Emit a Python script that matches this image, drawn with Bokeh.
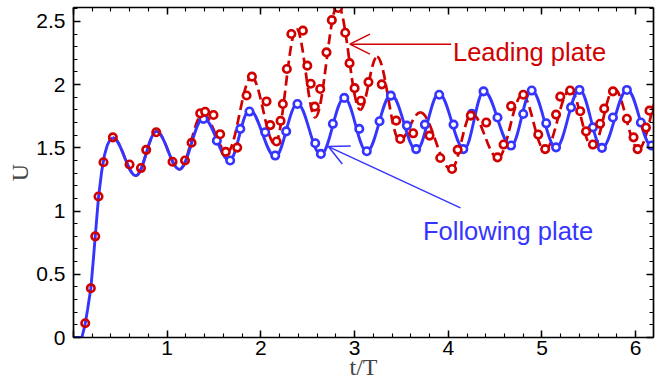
import numpy as np
from bokeh.plotting import figure
from bokeh.models import (Range1d, LinearAxis, SingleIntervalTicker, NumeralTickFormatter,
                          BasicTickFormatter, Label, Arrow, OpenHead)
from bokeh.embed import file_html
from bokeh.resources import INLINE

# ---------------- data ----------------
# shared initial rise of U(t/T)
rise_t = [0.0, 0.09, 0.125, 0.15, 0.185, 0.21, 0.232, 0.267, 0.30, 0.33, 0.36, 0.39, 0.42]
rise_u = [0.0, 0.0, 0.11, 0.22, 0.39, 0.60, 0.80, 1.11, 1.31, 1.44, 1.52, 1.565, 1.58]

# following plate (solid blue): successive peaks / troughs
follow_t = [0.42, 0.666, 0.885, 1.13, 1.387, 1.665, 1.878, 2.153, 2.39, 2.64, 2.89, 3.13, 3.39,
            3.66, 3.90, 4.17, 4.38, 4.67, 4.89, 5.15, 5.40, 5.64, 5.91, 6.17, 6.42]
follow_u = [1.58, 1.28, 1.63, 1.33, 1.735, 1.40, 1.80, 1.43, 1.85, 1.445, 1.895, 1.47, 1.92,
            1.48, 1.93, 1.49, 1.95, 1.515, 1.955, 1.50, 1.96, 1.50, 1.96, 1.515, 1.96]

# leading plate (dashed red): successive peaks / troughs
lead_t = [0.42, 0.666, 0.885, 1.13, 1.38, 1.64, 1.90, 2.15, 2.38, 2.58, 2.82, 3.06, 3.24, 3.48,
          3.70, 4.03, 4.25, 4.53, 4.79, 5.03, 5.30, 5.54, 5.77, 6.03, 6.28]
lead_u = [1.58, 1.28, 1.63, 1.33, 1.77, 1.465, 2.06, 1.53, 2.44, 1.74, 2.63, 1.80, 2.22, 1.56,
          1.78, 1.33, 1.77, 1.42, 1.92, 1.48, 1.96, 1.50, 1.97, 1.49, 1.97]

# leading plate, circle symbols
lead_pts_t = [0.125, 0.185, 0.232, 0.267, 0.32, 0.42, 0.598, 0.72, 0.776, 0.883, 1.057, 1.19,
              1.26, 1.352, 1.405, 1.494, 1.565, 1.625, 1.747, 1.847, 1.904, 2.06, 2.10, 2.167,
              2.21, 2.234, 2.277, 2.325, 2.448, 2.495, 2.532, 2.575, 2.633, 2.70, 2.757, 2.823,
              2.90, 2.946, 3.0, 3.067, 3.148, 3.29, 3.444, 3.487, 3.625, 3.80, 3.914, 4.04, 4.10,
              4.24, 4.405, 4.525, 4.59, 4.67, 4.80, 4.96, 5.034, 5.15, 5.195, 5.30, 5.408, 5.47,
              5.543, 5.62, 5.664, 5.757, 5.906, 5.977, 6.02, 6.11, 6.147]
lead_pts_u = [0.113, 0.39, 0.80, 1.115, 1.386, 1.583, 1.368, 1.34, 1.484, 1.623, 1.39, 1.40,
              1.54, 1.773, 1.785, 1.76, 1.608, 1.468, 1.502, 1.914, 2.063, 1.867, 1.68, 1.55,
              1.713, 1.847, 2.124, 2.40, 2.427, 2.15, 2.007, 1.826, 1.966, 2.255, 2.51, 2.606,
              2.41, 2.17, 1.972, 1.872, 2.02, 2.002, 1.715, 1.57, 1.615, 1.597, 1.42, 1.333,
              1.484, 1.755, 1.70, 1.425, 1.526, 1.83, 1.92, 1.605, 1.49, 1.763, 1.905, 1.953,
              1.79, 1.63, 1.526, 1.69, 1.81, 1.947, 1.73, 1.583, 1.49, 1.66, 1.794]

# following plate, circle symbols
follow_pts_t = [1.387, 1.53, 1.672, 1.78, 1.878, 2.046, 2.153, 2.27, 2.39, 2.58, 2.64, 2.768,
                2.89, 3.05, 3.13, 3.266, 3.387, 3.558, 3.657, 3.75, 3.903, 4.056, 4.16, 4.25,
                4.376, 4.525, 4.67, 4.80, 4.89, 5.045, 5.15, 5.31, 5.40, 5.543, 5.64, 5.757,
                5.906, 6.055, 6.17]
follow_pts_u = [1.729, 1.557, 1.40, 1.65, 1.787, 1.623, 1.439, 1.63, 1.847, 1.536, 1.452, 1.69,
                1.895, 1.65, 1.473, 1.71, 1.913, 1.676, 1.49, 1.684, 1.92, 1.684, 1.49, 1.77,
                1.947, 1.74, 1.518, 1.768, 1.953, 1.694, 1.504, 1.82, 1.958, 1.662, 1.50, 1.74,
                1.958, 1.70, 1.518]

x_label = "t/T"
y_label = "U"
lead_name = "Leading plate"
follow_name = "Following plate"

RED = "#d10000"
BLUE = "#3535ff"

p = figure(width=660, height=383, output_backend="svg", toolbar_location=None,
           x_range=Range1d(0, 6.19), y_range=Range1d(0, 2.61),
           x_axis_type=None, y_axis_type=None,
           min_border_left=73, min_border_right=7, min_border_top=7, min_border_bottom=46,
           background_fill_color="white", border_fill_color="white")
p.outline_line_color = None


def style_axis(ax, labels):
    ax.major_tick_in = 7
    ax.major_tick_out = 0
    ax.minor_tick_in = 4
    ax.minor_tick_out = 0
    ax.axis_line_width = 1.7
    ax.axis_line_color = "black"
    ax.major_tick_line_width = 1.5
    ax.minor_tick_line_width = 1.1
    ax.major_tick_line_color = "black"
    ax.minor_tick_line_color = "black"
    if labels:
        ax.major_label_text_font = "Liberation Sans"
        ax.major_label_text_font_size = "21px"
        ax.major_label_text_color = "black"
    else:
        ax.major_label_text_font_size = "0px"
        ax.major_label_text_color = None
        ax.major_label_standoff = 0


xb = LinearAxis(ticker=SingleIntervalTicker(interval=1, num_minor_ticks=5),
                formatter=BasicTickFormatter(), axis_label=x_label)
style_axis(xb, True)
xb.major_label_overrides = {0: ""}
xb.major_label_standoff = 3
xb.axis_label_text_font = "Liberation Serif"
xb.axis_label_text_font_style = "normal"
xb.axis_label_text_font_size = "24px"
xb.axis_label_standoff = -4
p.add_layout(xb, "below")

yl = LinearAxis(ticker=SingleIntervalTicker(interval=0.5, num_minor_ticks=5),
                formatter=NumeralTickFormatter(format="0.[0]"), axis_label=y_label)
style_axis(yl, True)
yl.major_label_standoff = 8
yl.axis_label_text_font = "Liberation Serif"
yl.axis_label_text_font_style = "normal"
yl.axis_label_text_font_size = "24px"
yl.axis_label_standoff = 0
p.add_layout(yl, "left")

xt = LinearAxis(ticker=SingleIntervalTicker(interval=1, num_minor_ticks=5))
style_axis(xt, False)
p.add_layout(xt, "above")
yr = LinearAxis(ticker=SingleIntervalTicker(interval=0.5, num_minor_ticks=5))
style_axis(yr, False)
p.add_layout(yr, "right")


def bez(ts, us):
    t = np.asarray(ts, float)
    u = np.asarray(us, float)
    x0, x1, y0, y1 = t[:-1], t[1:], u[:-1], u[1:]
    d = (x1 - x0) * 0.364
    return dict(x0=x0, y0=y0, x1=x1, y1=y1, cx0=x0 + d, cy0=y0, cx1=x1 - d, cy1=y1)


# leading plate dashed curve (under the blue one)
p.bezier(**bez(lead_t, lead_u), line_color=RED, line_width=2.7, line_dash="10 5")
# following plate solid curve
p.line(rise_t, rise_u, line_color=BLUE, line_width=2.9)
p.bezier(**bez(follow_t, follow_u), line_color=BLUE, line_width=2.9)

# symbols
p.scatter(follow_pts_t, follow_pts_u, marker="circle", size=7.5, line_color=BLUE,
          line_width=2.6, fill_color="white")
lt = np.asarray(lead_pts_t)
lu = np.asarray(lead_pts_u)
early = lt < 1.3
p.scatter(lt[early], lu[early], marker="circle", size=7.5, line_color=RED,
          line_width=2.6, fill_color=None)
p.scatter(lt[~early], lu[~early], marker="circle", size=7.5, line_color=RED,
          line_width=2.6, fill_color="white")

# annotations
p.add_layout(Arrow(end=OpenHead(size=20, line_color=RED, line_width=1.5),
                   x_start=4.03, y_start=2.32, x_end=2.95, y_end=2.32,
                   line_color=RED, line_width=1.5))
p.add_layout(Label(x=4.05, y=2.255, text=lead_name, text_color=RED,
                   text_font="Liberation Sans", text_font_size="25.5px",
                   text_baseline="alphabetic"))
p.add_layout(Arrow(end=OpenHead(size=20, line_color=BLUE, line_width=1.5),
                   x_start=4.13, y_start=1.025, x_end=2.72, y_end=1.51,
                   line_color=BLUE, line_width=1.5))
p.add_layout(Label(x=3.73, y=0.84, text=follow_name, text_color=BLUE,
                   text_font="Liberation Sans", text_font_size="25.5px",
                   text_baseline="alphabetic"))

open("out.html", "w").write(file_html(p, INLINE))
